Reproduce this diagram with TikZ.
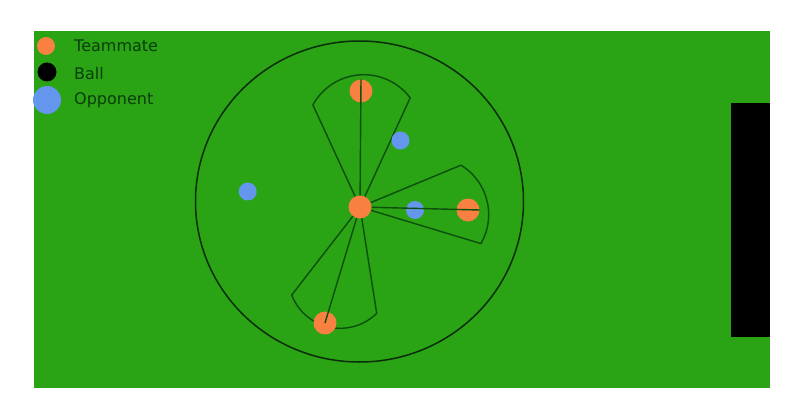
\documentclass[tikz,border=0pt]{standalone}
\usepackage{fontspec}
\setmainfont{DejaVu Sans}
\definecolor{field}{RGB}{42,163,21}
\definecolor{mate}{RGB}{248,128,64}
\definecolor{opp}{RGB}{100,150,238}
\definecolor{sectcol}{RGB}{12,80,12}
\definecolor{ringcol}{RGB}{8,45,8}
\definecolor{legtext}{RGB}{10,62,10}
\tikzset{
  tm/.style={circle, fill=mate, inner sep=0pt, minimum size=23pt},
  op/.style={circle, fill=opp, inner sep=0pt, minimum size=18pt},
  sectorline/.style={draw=sectcol, line width=1.4pt, line join=round},
  ring/.style={draw=ringcol, line width=1.5pt},
  legend/.style={anchor=west, text=legtext, font=\fontsize{16}{19}\selectfont, inner sep=0pt}
}
\begin{document}
\begin{tikzpicture}[x=1pt,y=-1pt]
\useasboundingbox (0,0) rectangle (798,412);
% field and goal
\fill[field] (34,31) rectangle (770,388);
\fill[black] (731,103) rectangle (770,337);
% big circle
\draw[ring] (359.5,201.5) ellipse [x radius=164, y radius=160.5];
% sector outlines
\coordinate (A) at (360,207);
\coordinate (Ct) at (363.8,132.7);
\coordinate (Cr) at (430.7,214.6);
\coordinate (Cb) at (340.2,276.3);
\draw[sectorline] (A) -- ([shift={(-151.4:58)}]Ct) arc[start angle=-151.4, end angle=-36.9, radius=58] -- cycle;
\draw[sectorline] (A) -- ([shift={(-58.5:58)}]Cr) arc[start angle=-58.5, end angle=30, radius=58] -- cycle;
\draw[sectorline] (A) -- ([shift={(158.9:52)}]Cb) arc[start angle=158.9, end angle=45.4, radius=52] -- cycle;
% players
\node[tm] (t0) at (360,207) {};
\node[tm] (t1) at (361,91) {};
\node[tm] (t2) at (468,210) {};
\node[tm] (t3) at (325,323) {};
\node[op] (o1) at (400.5,140.5) {};
\node[op] (o2) at (415,210) {};
\node[op] (o3) at (247.7,191.5) {};
% direction lines
\draw[sectorline] (t0) -- (t1.north);
\draw[sectorline] (t0) -- (t2.east);
\draw[sectorline] (t0) -- (t3.center);
% legend
\node[circle, fill=mate, inner sep=0pt, minimum size=18pt] (lm) at (46,46) {};
\node[circle, fill=black, inner sep=0pt, minimum size=19pt] (lb) at (47,72) {};
\node[circle, fill=opp, inner sep=0pt, minimum size=28pt] (lo) at (47,100) {};
\node[legend] (tx1) at (74,46) {Teammate};
\node[legend] (tx2) at (74,73.5) {Ball};
\node[legend] (tx3) at (74,100.5) {Opponent};
\end{tikzpicture}
\end{document}
